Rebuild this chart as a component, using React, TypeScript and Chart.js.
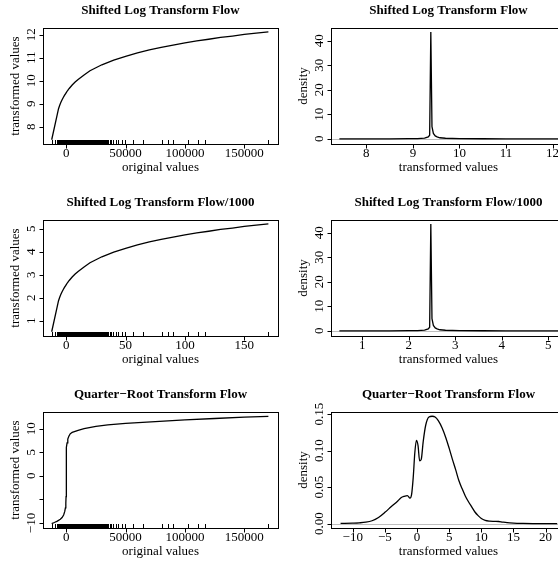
import React, { useEffect, useRef } from "react";
import { Chart, registerables } from "chart.js";

Chart.register(...registerables);

// ---------- data ----------
// Shifted log transform of Flow: original values vs transformed values
const FLOW_X = [-12250, -7600, -6500, -5500, -4500, -3500, -2500, -1500, -500, 0, 1000, 2500, 5000, 7500, 10000, 15000, 20000, 25000, 30000, 40000, 50000, 60000, 70000, 80000, 90000, 100000, 110000, 120000, 130000, 140000, 150000, 160000, 170300];
const LOG_FLOW_Y = [7.43, 8.52, 8.78, 8.93, 9.06, 9.17, 9.27, 9.36, 9.44, 9.48, 9.56, 9.66, 9.81, 9.94, 10.05, 10.25, 10.43, 10.56, 10.69, 10.89, 11.06, 11.21, 11.34, 11.45, 11.55, 11.64, 11.73, 11.8, 11.88, 11.94, 12.01, 12.07, 12.12];

// Shifted log transform of Flow/1000
const FLOW_K_X = [-12.25, -7.6, -6.5, -5.5, -4.5, -3.5, -2.5, -1.5, -0.5, 0, 1, 2.5, 5, 7.5, 10, 15, 20, 25, 30, 40, 50, 60, 70, 80, 90, 100, 110, 120, 130, 140, 150, 160, 170.3];
const LOG_FLOW_K_Y = [0.52, 1.61, 1.87, 2.02, 2.15, 2.26, 2.36, 2.45, 2.53, 2.57, 2.65, 2.75, 2.9, 3.03, 3.14, 3.34, 3.52, 3.65, 3.78, 3.98, 4.15, 4.3, 4.43, 4.54, 4.64, 4.73, 4.82, 4.89, 4.97, 5.03, 5.1, 5.16, 5.21];

// Quarter-root transform of Flow
const QR_FLOW_X = [-12250, -10000, -7500, -5000, -3500, -2200, -1300, -700, -350, -150, -50, 0, 50, 150, 350, 700, 1300, 2200, 3300, 5000, 10000, 15000, 25000, 35000, 50000, 75000, 100000, 125000, 150000, 170300];
const QR_FLOW_Y = [-10.15, -9.9, -9.6, -9.2, -8.85, -8.3, -7.6, -6.8, -5.8, -4.4, -2.8, 0, 3.0, 4.6, 6.0, 7.0, 7.8, 8.4, 8.9, 9.2, 9.65, 10.0, 10.5, 10.8, 11.1, 11.5, 11.85, 12.15, 12.45, 12.62];

// Density of the shifted log values
const DENS_LOG_X = [7.42, 8.0, 8.5, 8.9, 9.1, 9.25, 9.33, 9.36, 9.385, 9.41, 9.44, 9.48, 9.52, 9.58, 9.7, 10.0, 10.5, 11.0, 11.5, 12.0, 12.29];
const DENS_LOG_Y = [0.0, 0.01, 0.03, 0.06, 0.12, 0.3, 0.8, 1.5, 43.6, 5, 2.2, 1.2, 0.8, 0.45, 0.25, 0.1, 0.05, 0.03, 0.02, 0.01, 0.0];

// Density of the shifted log (Flow/1000) values
const DENS_LOG_K_X = [0.51, 1.09, 1.59, 1.99, 2.19, 2.34, 2.42, 2.45, 2.475, 2.5, 2.53, 2.57, 2.61, 2.67, 2.79, 3.09, 3.59, 4.09, 4.59, 5.09, 5.38];
const DENS_LOG_K_Y = [0.0, 0.01, 0.03, 0.06, 0.12, 0.3, 0.8, 1.5, 43.6, 5, 2.2, 1.2, 0.8, 0.45, 0.25, 0.1, 0.05, 0.03, 0.02, 0.01, 0.0];

// Density of the quarter-root values
const DENS_QR_X = [-11.9, -10, -9, -8, -7, -6, -5, -4, -3, -2.5, -2, -1.5, -1.1, -0.85, -0.6, -0.35, -0.1, 0.15, 0.4, 0.65, 0.95, 1.35, 1.85, 2.35, 2.8, 3.3, 3.9, 4.5, 5.0, 5.5, 6.0, 6.5, 7.0, 7.5, 8.0, 8.5, 9.0, 9.5, 10.0, 10.6, 11.3, 12.0, 12.7, 13.3, 14.0, 15.0, 16.5, 18.0, 20.0, 21.8];
const DENS_QR_Y = [0.0003, 0.0008, 0.0012, 0.002, 0.004, 0.0085, 0.0155, 0.0235, 0.031, 0.0355, 0.0375, 0.0385, 0.035, 0.04, 0.063, 0.097, 0.114, 0.107, 0.086, 0.088, 0.112, 0.135, 0.146, 0.147, 0.146, 0.141, 0.131, 0.117, 0.103, 0.088, 0.074, 0.059, 0.048, 0.038, 0.03, 0.023, 0.016, 0.011, 0.007, 0.0045, 0.0035, 0.0032, 0.003, 0.0022, 0.0014, 0.0008, 0.0004, 0.0002, 0.0001, 0.0];

// Rug (observed Flow values)
const FLOW_RUG = [-12250, -9200, -7800, -7000, -6500, -6000, -5500, -5000, -4500, -4000, -3500, -3000, -2500, -2000, -1500, -1000, -500, 0, 500, 1000, 1500, 2000, 2500, 3000, 3500, 4000, 4500, 5000, 5500, 6000, 6500, 7000, 7500, 8000, 8500, 9000, 9500, 10000, 10500, 11000, 11500, 12000, 12500, 13000, 13500, 14000, 14500, 15000, 15500, 16000, 16500, 17000, 17500, 18000, 18500, 19000, 19500, 20000, 20700, 21400, 22100, 22800, 23500, 24200, 24900, 25600, 26300, 27000, 27700, 28400, 29100, 29800, 30500, 31200, 32000, 32800, 33600, 34500, 35400, 36500, 37800, 39800, 42000, 44000, 46800, 49600, 56500, 65000, 80400, 86000, 90200, 102800, 111200, 116800, 170300];
const FLOW_K_RUG = [-12.25, -9.2, -7.8, -7.0, -6.5, -6.0, -5.5, -5.0, -4.5, -4.0, -3.5, -3.0, -2.5, -2.0, -1.5, -1.0, -0.5, 0, 0.5, 1.0, 1.5, 2.0, 2.5, 3.0, 3.5, 4.0, 4.5, 5.0, 5.5, 6.0, 6.5, 7.0, 7.5, 8.0, 8.5, 9.0, 9.5, 10.0, 10.5, 11.0, 11.5, 12.0, 12.5, 13.0, 13.5, 14.0, 14.5, 15.0, 15.5, 16.0, 16.5, 17.0, 17.5, 18.0, 18.5, 19.0, 19.5, 20.0, 20.7, 21.4, 22.1, 22.8, 23.5, 24.2, 24.9, 25.6, 26.3, 27.0, 27.7, 28.4, 29.1, 29.8, 30.5, 31.2, 32.0, 32.8, 33.6, 34.5, 35.4, 36.5, 37.8, 39.8, 42.0, 44.0, 46.8, 49.6, 56.5, 65.0, 80.4, 86.0, 90.2, 102.8, 111.2, 116.8, 170.3];

// Tick values and labels
const FLOW_TICKS = [0, 50000, 100000, 150000];
const FLOW_TICK_LABELS = ["0", "50000", "100000", "150000"];
const FLOW_K_TICKS = [0, 50, 100, 150];
const FLOW_K_TICK_LABELS = ["0", "50", "100", "150"];
const LOG_Y_TICKS = [8, 9, 10, 11, 12];
const LOG_Y_TICK_LABELS = ["8", "9", "10", "11", "12"];
const LOG_K_Y_TICKS = [1, 2, 3, 4, 5];
const LOG_K_Y_TICK_LABELS = ["1", "2", "3", "4", "5"];
const QR_Y_TICKS = [-10, -5, 0, 5, 10];
const QR_Y_TICK_LABELS = ["\u221210", "", "0", "5", "10"];
const DENS_Y_TICKS = [0, 10, 20, 30, 40];
const DENS_Y_TICK_LABELS = ["0", "10", "20", "30", "40"];
const DENS_QR_Y_TICKS = [0, 0.05, 0.1, 0.15];
const DENS_QR_Y_TICK_LABELS = ["0.00", "0.05", "0.10", "0.15"];
const DENS_QR_X_TICKS = [-10, -5, 0, 5, 10, 15, 20];
const DENS_QR_X_TICK_LABELS = ["\u221210", "\u22125", "0", "5", "10", "15", "20"];

// ---------- layout ----------
const PANEL_W = 288;
const PANEL_H = 192;
const PAD = { left: 43, top: 28, right: 10, bottom: 48 };
const FONT = '"Liberation Serif", "Times New Roman", Times, serif';

type Panel = {
  title: string;
  xTitle: string;
  yTitle: string;
  xs: number[];
  ys: number[];
  xRange: [number, number];
  yRange: [number, number];
  xTicks: number[];
  xLabels: string[];
  yTicks: number[];
  yLabels: string[];
  rug?: number[];
  zero?: boolean;
  smooth?: boolean;
};

const PANELS: Panel[] = [
  { title: "Shifted Log Transform Flow", xTitle: "original values", yTitle: "transformed values", xs: FLOW_X, ys: LOG_FLOW_Y, xRange: [-19580, 178400], yRange: [7.245, 12.29], xTicks: FLOW_TICKS, xLabels: FLOW_TICK_LABELS, yTicks: LOG_Y_TICKS, yLabels: LOG_Y_TICK_LABELS, rug: FLOW_RUG },
  { title: "Shifted Log Transform Flow", xTitle: "transformed values", yTitle: "density", xs: DENS_LOG_X, ys: DENS_LOG_Y, xRange: [7.24, 12.29], yRange: [-2.1, 45.2], xTicks: LOG_Y_TICKS, xLabels: LOG_Y_TICK_LABELS, yTicks: DENS_Y_TICKS, yLabels: DENS_Y_TICK_LABELS, zero: true },
  { title: "Shifted Log Transform Flow/1000", xTitle: "original values", yTitle: "transformed values", xs: FLOW_K_X, ys: LOG_FLOW_K_Y, xRange: [-19.58, 178.4], yRange: [0.335, 5.38], xTicks: FLOW_K_TICKS, xLabels: FLOW_K_TICK_LABELS, yTicks: LOG_K_Y_TICKS, yLabels: LOG_K_Y_TICK_LABELS, rug: FLOW_K_RUG },
  { title: "Shifted Log Transform Flow/1000", xTitle: "transformed values", yTitle: "density", xs: DENS_LOG_K_X, ys: DENS_LOG_K_Y, xRange: [0.33, 5.38], yRange: [-2.1, 45.2], xTicks: LOG_K_Y_TICKS, xLabels: LOG_K_Y_TICK_LABELS, yTicks: DENS_Y_TICKS, yLabels: DENS_Y_TICK_LABELS, zero: true },
  { title: "Quarter\u2212Root Transform Flow", xTitle: "original values", yTitle: "transformed values", xs: QR_FLOW_X, ys: QR_FLOW_Y, xRange: [-19580, 178400], yRange: [-11.06, 13.53], xTicks: FLOW_TICKS, xLabels: FLOW_TICK_LABELS, yTicks: QR_Y_TICKS, yLabels: QR_Y_TICK_LABELS, rug: FLOW_RUG },
  { title: "Quarter\u2212Root Transform Flow", xTitle: "transformed values", yTitle: "density", xs: DENS_QR_X, ys: DENS_QR_Y, xRange: [-13.39, 23.17], yRange: [-0.0059, 0.1528], xTicks: DENS_QR_X_TICKS, xLabels: DENS_QR_X_TICK_LABELS, yTicks: DENS_QR_Y_TICKS, yLabels: DENS_QR_Y_TICK_LABELS, zero: true, smooth: true },
];

const TICK_LEN = 4;
const RUG_LEN = 4;

const rPlot = {
  id: "rPlot",
  beforeDatasetsDraw(chart: any, _a: any, o: any) {
    if (!o.zero) return;
    const { ctx, chartArea: ca } = chart;
    const y = Math.round(chart.scales.y.getPixelForValue(0)) + 0.5;
    ctx.save();
    ctx.strokeStyle = "#BEBEBE";
    ctx.lineWidth = 1;
    ctx.beginPath();
    ctx.moveTo(ca.left, y);
    ctx.lineTo(ca.right, y);
    ctx.stroke();
    ctx.restore();
  },
  afterDatasetsDraw(chart: any, _a: any, o: any) {
    if (!o.rug) return;
    const { ctx, chartArea: ca } = chart;
    const xs = chart.scales.x;
    ctx.save();
    ctx.strokeStyle = "#000";
    ctx.lineWidth = 1;
    ctx.beginPath();
    for (const v of o.rug) {
      const px = Math.round(xs.getPixelForValue(v)) + 0.5;
      ctx.moveTo(px, ca.bottom);
      ctx.lineTo(px, ca.bottom - RUG_LEN);
    }
    ctx.stroke();
    ctx.restore();
  },
  afterDraw(chart: any, _a: any, o: any) {
    const { ctx, chartArea: ca } = chart;
    const xs = chart.scales.x;
    const ys = chart.scales.y;
    const L = ca.left, R = ca.right, T = ca.top, B = ca.bottom;
    ctx.save();
    ctx.strokeStyle = "#000";
    ctx.lineWidth = 1;
    ctx.strokeRect(L + 0.5, T + 0.5, R - L, B - T);
    ctx.beginPath();
    for (const v of o.xTicks) {
      const px = Math.round(xs.getPixelForValue(v)) + 0.5;
      ctx.moveTo(px, B + 0.5);
      ctx.lineTo(px, B + 0.5 + TICK_LEN);
    }
    for (const v of o.yTicks) {
      const py = Math.round(ys.getPixelForValue(v)) + 0.5;
      ctx.moveTo(L + 0.5, py);
      ctx.lineTo(L + 0.5 - TICK_LEN, py);
    }
    ctx.stroke();

    ctx.fillStyle = "#000";
    ctx.textAlign = "center";
    ctx.textBaseline = "middle";
    ctx.font = `13px ${FONT}`;
    o.xTicks.forEach((v: number, i: number) => {
      ctx.fillText(o.xLabels[i], xs.getPixelForValue(v), B + 10);
    });
    o.yTicks.forEach((v: number, i: number) => {
      const lab = o.yLabels[i];
      if (!lab) return;
      ctx.save();
      ctx.translate(L - 11, ys.getPixelForValue(v));
      ctx.rotate(-Math.PI / 2);
      ctx.fillText(lab, 0, 0);
      ctx.restore();
    });
    // axis titles
    ctx.fillText(o.xTitle, (L + R) / 2, B + 24);
    ctx.save();
    ctx.translate(L - 27, (T + B) / 2);
    ctx.rotate(-Math.PI / 2);
    ctx.fillText(o.yTitle, 0, 0);
    ctx.restore();
    // main title
    ctx.font = `bold 13px ${FONT}`;
    ctx.fillText(o.title, (L + R) / 2, T - 17.5);
    ctx.restore();
  },
};

function PanelChart({ p, left, top }: { p: Panel; left: number; top: number }) {
  const ref = useRef<HTMLCanvasElement | null>(null);
  useEffect(() => {
    if (!ref.current) return;
    const chart = new Chart(ref.current, {
      type: "line",
      data: {
        datasets: [
          {
            data: p.xs.map((x, i) => ({ x, y: p.ys[i] })),
            borderColor: "#000",
            borderWidth: 1.3,
            pointRadius: 0,
            fill: false,
            tension: 0,
            cubicInterpolationMode: p.smooth ? "monotone" : "default",
          } as any,
        ],
      },
      options: {
        responsive: false,
        animation: false,
        devicePixelRatio: 1,
        layout: { padding: PAD },
        events: [],
        scales: {
          x: { type: "linear", min: p.xRange[0], max: p.xRange[1], display: false },
          y: { type: "linear", min: p.yRange[0], max: p.yRange[1], display: false },
        },
        plugins: {
          legend: { display: false },
          tooltip: { enabled: false },
          rPlot: {
            title: p.title,
            xTitle: p.xTitle,
            yTitle: p.yTitle,
            xTicks: p.xTicks,
            xLabels: p.xLabels,
            yTicks: p.yTicks,
            yLabels: p.yLabels,
            rug: p.rug || null,
            zero: !!p.zero,
          },
        } as any,
      },
      plugins: [rPlot as any],
    });
    return () => chart.destroy();
  }, [p]);
  return (
    <canvas
      ref={ref}
      width={PANEL_W}
      height={PANEL_H}
      style={{ position: "absolute", left, top, width: PANEL_W, height: PANEL_H }}
    />
  );
}

export default function App() {
  return (
    <div
      style={{
        position: "fixed",
        left: 0,
        top: 0,
        width: 558,
        height: 563,
        overflow: "hidden",
        background: "#fff",
      }}
    >
      {PANELS.map((p, i) => (
        <PanelChart key={i} p={p} left={(i % 2) * PANEL_W} top={Math.floor(i / 2) * PANEL_H} />
      ))}
    </div>
  );
}
